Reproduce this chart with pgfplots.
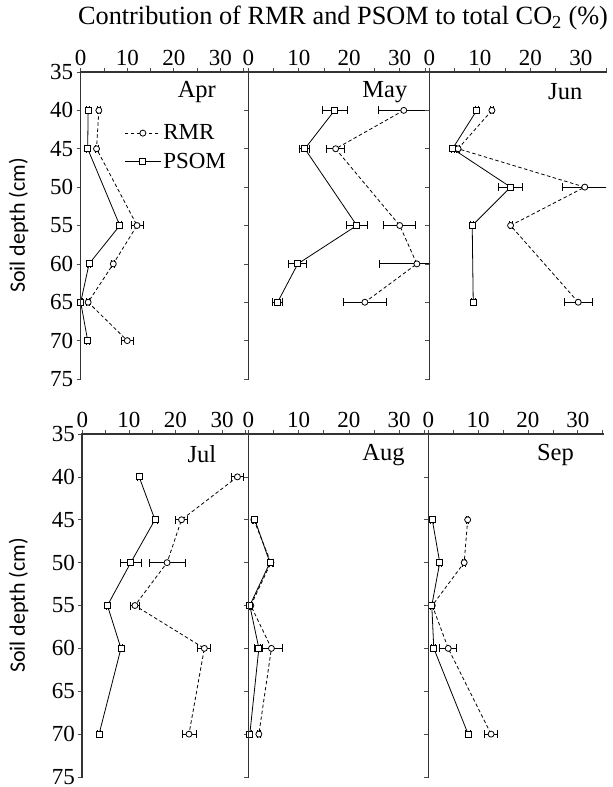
\documentclass[border=0pt]{standalone}
\usepackage{pgfplots}
\pgfplotsset{compat=1.18}
\usepackage{fontspec}
\setmainfont{Liberation Serif}
\newfontfamily\labfont{Carlito}

\tikzset{month/.style={anchor=east, font=\fontsize{24.5}{28}\selectfont}}
\pgfplotsset{
  panel/.style={
    scale only axis,
    y dir=reverse,
    ymin=35, ymax=75, xmin=0,
    axis line style={draw=none},
    xtick pos=right, xticklabel pos=right,
    ytick pos=left, yticklabel pos=left,
    tick align=outside,
    major tick length=4pt,
    minor tick length=4pt,
    tick style={black!70, line width=0.7pt},
    xtick={0,10,20,30},
    minor xtick={5,15,25,35},
    ytick={35,40,...,75},
    yticklabels={},
    /pgf/number format/assume math mode=true,
    ticklabel style={font=\fontsize{23}{26}\selectfont},
    xticklabel style={yshift=-1pt},
    clip=true,
    extra description/.code={
      \draw[black!80, line width=1.6pt, line cap=rect] (axis description cs:0,0) -- (axis description cs:0,1) -- (axis description cs:1,1);
    },
  },
  rmr/.style={black, line width=0.8pt, dash pattern=on 3.5pt off 2.5pt,
    mark=*, mark size=3pt, mark options={solid, fill=white, line width=0.8pt},
    error bars/.cd, x dir=both, x explicit,
    error bar style={solid, line width=0.8pt},
    error mark options={solid, rotate=90, mark size=4pt, line width=0.8pt}},
  psom/.style={black, line width=0.8pt, solid,
    mark=square*, mark size=3pt, mark options={solid, fill=white, line width=0.8pt},
    error bars/.cd, x dir=both, x explicit,
    error bar style={solid, line width=0.8pt},
    error mark options={solid, rotate=90, mark size=4pt, line width=0.8pt}},
}

\begin{document}
\begin{tikzpicture}
\useasboundingbox (0pt,0pt) rectangle (613pt,787pt);
\node[font=\fontsize{26.3}{30}\selectfont, anchor=base] at (343pt,762pt) {Contribution of RMR and PSOM to total CO\textsubscript{2} (\%)};

% ---- Apr ----
\begin{axis}[panel, at={(80.7pt,715pt)}, anchor=north west, width=167.6pt, height=307pt, xmax=36,
  yticklabels={35,40,45,50,55,60,65,70,75},
  ylabel={\labfont Soil depth (cm)},
  ylabel style={font=\fontsize{22}{26}\selectfont, at={(axis description cs:-0.37,0.5)}, anchor=center},
  legend style={draw=none, fill=none, at={(axis description cs:0.26,0.835)}, anchor=north west,
    font=\fontsize{23}{26}\selectfont, inner sep=0pt, row sep=8pt},
  legend cell align=left,
  legend image code/.code={\draw[mark repeat=2,mark phase=2,#1] plot coordinates {(0pt,0pt) (18pt,0pt) (36pt,0pt)};},
]
\addplot+[rmr] coordinates {(3.9,40) +- (0.3,0) (3.4,45) +- (0.3,0) (12.1,55) +- (1.3,0) (7.0,60) +- (0.3,0) (1.6,65) +- (0.3,0) (10.0,70) +- (1.25,0)};
\addlegendentry{RMR}
\addplot+[psom] coordinates {(1.6,40) +- (0.3,0) (1.5,45) +- (0.3,0) (8.4,55) +- (0.3,0) (1.8,60) +- (0.3,0) (0,65) +- (0.3,0) (1.5,70) +- (0.3,0)};
\addlegendentry{PSOM}
\node[month] at (axis cs:29.8,37.6) {Apr};
\end{axis}

% ---- May ----
\begin{axis}[panel, at={(248.3pt,715pt)}, anchor=north west, width=181.7pt, height=307pt, xmax=36]
\addplot+[rmr] coordinates {(30.8,40) +- (5.1,0) (17.3,45) +- (1.75,0) (30.0,55) +- (3.2,0) (33.4,60) +- (7.4,0) (23.1,65) +- (4.3,0)};
\addplot+[psom] coordinates {(17.1,40) +- (2.5,0) (11.2,45) +- (1.0,0) (21.5,55) +- (2.1,0) (9.8,60) +- (1.8,0) (5.8,65) +- (1.05,0)};
\node[month] at (axis cs:32.2,37.6) {May};
\end{axis}

% ---- Jun ----
\begin{axis}[panel, at={(429.3pt,715pt)}, anchor=north west, width=176.7pt, height=307pt, xmax=35]
\addplot+[rmr] coordinates {(12.4,40) +- (0.2,0) (5.7,45) +- (0.3,0) (30.8,50) +- (4.5,0) (16.1,55) +- (0.3,0) (29.5,65) +- (2.8,0)};
\addplot+[psom] coordinates {(9.4,40) +- (0.3,0) (4.6,45) +- (0.3,0) (16.1,50) +- (2.4,0) (8.5,55) +- (0.3,0) (8.7,65) +- (0.4,0)};
\node[month] at (axis cs:31,37.6) {Jun};
\end{axis}

% ---- Jul ----
\begin{axis}[panel, at={(82.3pt,353pt)}, anchor=north west, width=167.7pt, height=343pt, xmax=36,
  yticklabels={35,40,45,50,55,60,65,70,75},
  ylabel={\labfont Soil depth (cm)},
  ylabel style={font=\fontsize{22}{26}\selectfont, at={(axis description cs:-0.38,0.5)}, anchor=center},
]
\addplot+[rmr] coordinates {(33.3,40) +- (1.3,0) (21.3,45) +- (1.25,0) (18.2,50) +- (3.9,0) (11.3,55) +- (0.9,0) (26.2,60) +- (1.4,0) (22.9,70) +- (1.5,0)};
\addplot+[psom] coordinates {(12.2,40) +- (0.3,0) (15.6,45) +- (0.5,0) (10.4,50) +- (2.2,0) (5.4,55) +- (0.3,0) (8.3,60) +- (0.4,0) (3.6,70) +- (0.3,0)};
\node[month] at (axis cs:29.5,37.4) {Jul};
\end{axis}

% ---- Aug ----
\begin{axis}[panel, at={(248.3pt,353pt)}, anchor=north west, width=181pt, height=343pt, xmax=36]
\addplot+[rmr] coordinates {(1.1,45) +- (0.3,0) (4.5,50) +- (0.4,0) (0.5,55) +- (0.3,0) (4.6,60) +- (2.1,0) (2.1,70) +- (0.3,0)};
\addplot+[psom] coordinates {(1.3,45) +- (0.3,0) (4.3,50) +- (0.4,0) (0.3,55) +- (0.3,0) (2.1,60) +- (0.8,0) (0.3,70) +- (0.3,0)};
\node[month] at (axis cs:31.8,37.4) {Aug};
\end{axis}

% ---- Sep ----
\begin{axis}[panel, at={(428.3pt,353pt)}, anchor=north west, width=174.4pt, height=343pt, xmax=35]
\addplot+[rmr] coordinates {(7.9,45) +- (0.2,0) (7.2,50) +- (0.3,0) (0.8,55) +- (0.3,0) (4.0,60) +- (1.7,0) (12.6,70) +- (1.3,0)};
\addplot+[psom] coordinates {(0.8,45) +- (0.3,0) (2.3,50) +- (0.3,0) (0.7,55) +- (0.3,0) (1.1,60) +- (0.4,0) (8.0,70) +- (0.5,0)};
\node[month] at (axis cs:29.9,37.4) {Sep};
\end{axis}
\end{tikzpicture}
\end{document}
